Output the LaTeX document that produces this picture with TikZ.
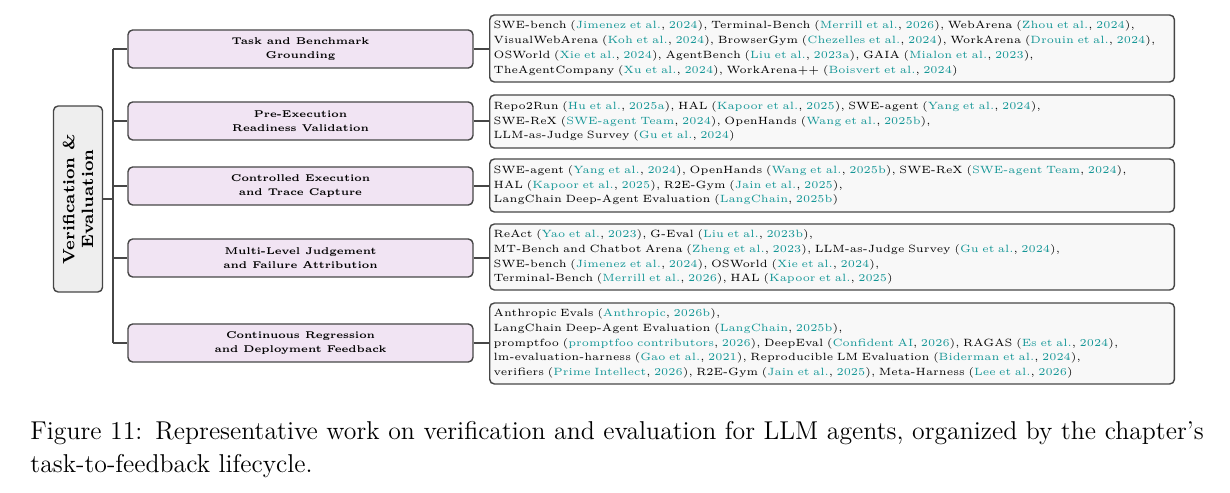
\documentclass[tikz,border=0pt]{standalone}
\usepackage{tikz}
\usetikzlibrary{positioning}
\definecolor{citeteal}{RGB}{20,150,150}
\definecolor{catfill}{RGB}{241,228,243}
\definecolor{leaffill}{RGB}{248,248,248}
\definecolor{rootfill}{RGB}{238,238,238}
\definecolor{edgegray}{RGB}{70,70,70}
\newcommand{\ct}[2]{(\textcolor{citeteal}{#1}, \textcolor{citeteal}{#2})}
\tikzset{
  root/.style={draw=edgegray, fill=rootfill, rounded corners=2pt, line width=0.6pt,
    minimum width=0.735cm, minimum height=2.79cm, inner sep=0pt},
  cat/.style={draw=edgegray, fill=catfill, rounded corners=2pt, line width=0.6pt,
    minimum width=5.175cm, minimum height=0.57cm, align=center,
    font=\fontsize{4.2}{6}\selectfont\bfseries, inner sep=0pt},
  leaf/.style={draw=edgegray, fill=leaffill, rounded corners=2pt, line width=0.6pt,
    text width=10.15cm, minimum width=10.2cm, align=left,
    font=\fontsize{4.5}{6.3}\selectfont, inner sep=0.06cm, anchor=west},
  link/.style={draw=edgegray, line width=0.8pt},
}
\begin{document}
\begin{tikzpicture}[x=0.015cm, y=-0.015cm]
	\useasboundingbox (0,0) rectangle (1230,493);

	% root
	\node[root] (root) at (78,199) {};
	\node[rotate=90, align=center, font=\scriptsize\bfseries] at (root.center) {Verification \&\\Evaluation};

	% categories
	\node[cat] (c1) at (300.5,49) {Task and Benchmark\\Grounding};
	\node[cat] (c2) at (300.5,121) {Pre-Execution\\Readiness Validation};
	\node[cat] (c3) at (300.5,186) {Controlled Execution\\and Trace Capture};
	\node[cat] (c4) at (300.5,258) {Multi-Level Judgement\\and Failure Attribution};
	\node[cat] (c5) at (300.5,343) {Continuous Regression\\and Deployment Feedback};

	% leaves
	\node[leaf, minimum height=1.005cm] (l1) at (489,48.5) {SWE-bench \ct{Jimenez et al.}{2024}, Terminal-Bench \ct{Merrill et al.}{2026}, WebArena \ct{Zhou et al.}{2024},\\
		VisualWebArena \ct{Koh et al.}{2024}, BrowserGym \ct{Chezelles et al.}{2024}, WorkArena \ct{Drouin et al.}{2024},\\
		OSWorld \ct{Xie et al.}{2024}, AgentBench \ct{Liu et al.}{2023a}, GAIA \ct{Mialon et al.}{2023},\\
		TheAgentCompany \ct{Xu et al.}{2024}, WorkArena++ \ct{Boisvert et al.}{2024}};
	\node[leaf, minimum height=0.795cm] (l2) at (489,121.5) {Repo2Run \ct{Hu et al.}{2025a}, HAL \ct{Kapoor et al.}{2025}, SWE-agent \ct{Yang et al.}{2024},\\
		SWE-ReX \ct{SWE-agent Team}{2024}, OpenHands \ct{Wang et al.}{2025b},\\
		LLM-as-Judge Survey \ct{Gu et al.}{2024}};
	\node[leaf, minimum height=0.795cm] (l3) at (489,185.5) {SWE-agent \ct{Yang et al.}{2024}, OpenHands \ct{Wang et al.}{2025b}, SWE-ReX \ct{SWE-agent Team}{2024},\\
		HAL \ct{Kapoor et al.}{2025}, R2E-Gym \ct{Jain et al.}{2025},\\
		LangChain Deep-Agent Evaluation \ct{LangChain}{2025b}};
	\node[leaf, minimum height=0.99cm] (l4) at (489,257) {ReAct \ct{Yao et al.}{2023}, G-Eval \ct{Liu et al.}{2023b},\\
		MT-Bench and Chatbot Arena \ct{Zheng et al.}{2023}, LLM-as-Judge Survey \ct{Gu et al.}{2024},\\
		SWE-bench \ct{Jimenez et al.}{2024}, OSWorld \ct{Xie et al.}{2024},\\
		Terminal-Bench \ct{Merrill et al.}{2026}, HAL \ct{Kapoor et al.}{2025}};
	\node[leaf, minimum height=1.215cm] (l5) at (489,343.5) {Anthropic Evals \ct{Anthropic}{2026b},\\
		LangChain Deep-Agent Evaluation \ct{LangChain}{2025b},\\
		promptfoo \ct{promptfoo contributors}{2026}, DeepEval \ct{Confident AI}{2026}, RAGAS \ct{Es et al.}{2024},\\
		lm-evaluation-harness \ct{Gao et al.}{2021}, Reproducible LM Evaluation \ct{Biderman et al.}{2024},\\
		verifiers \ct{Prime Intellect}{2026}, R2E-Gym \ct{Jain et al.}{2025}, Meta-Harness \ct{Lee et al.}{2026}};

	% connectors
	\coordinate (trunk) at (113,199);
	\draw[link] (root.east) -- (trunk);
	\draw[link] (113,49) -- (113,343);
	\foreach \i in {1,...,5} {
		\draw[link] (c\i.west -| trunk) -- (c\i.west);
		\draw[link] (c\i.east) -- (l\i.west |- c\i.east);
	}

	% caption
	\node[anchor=north west, text width=17.7cm, align=left, font=\fontsize{11}{14}\selectfont, inner sep=0] (cap) at (30,421)
		{\hyphenpenalty=10000 Figure 11: Representative work on verification and evaluation for LLM agents, organized by the chapter's task-to-feedback lifecycle.};
\end{tikzpicture}
\end{document}
